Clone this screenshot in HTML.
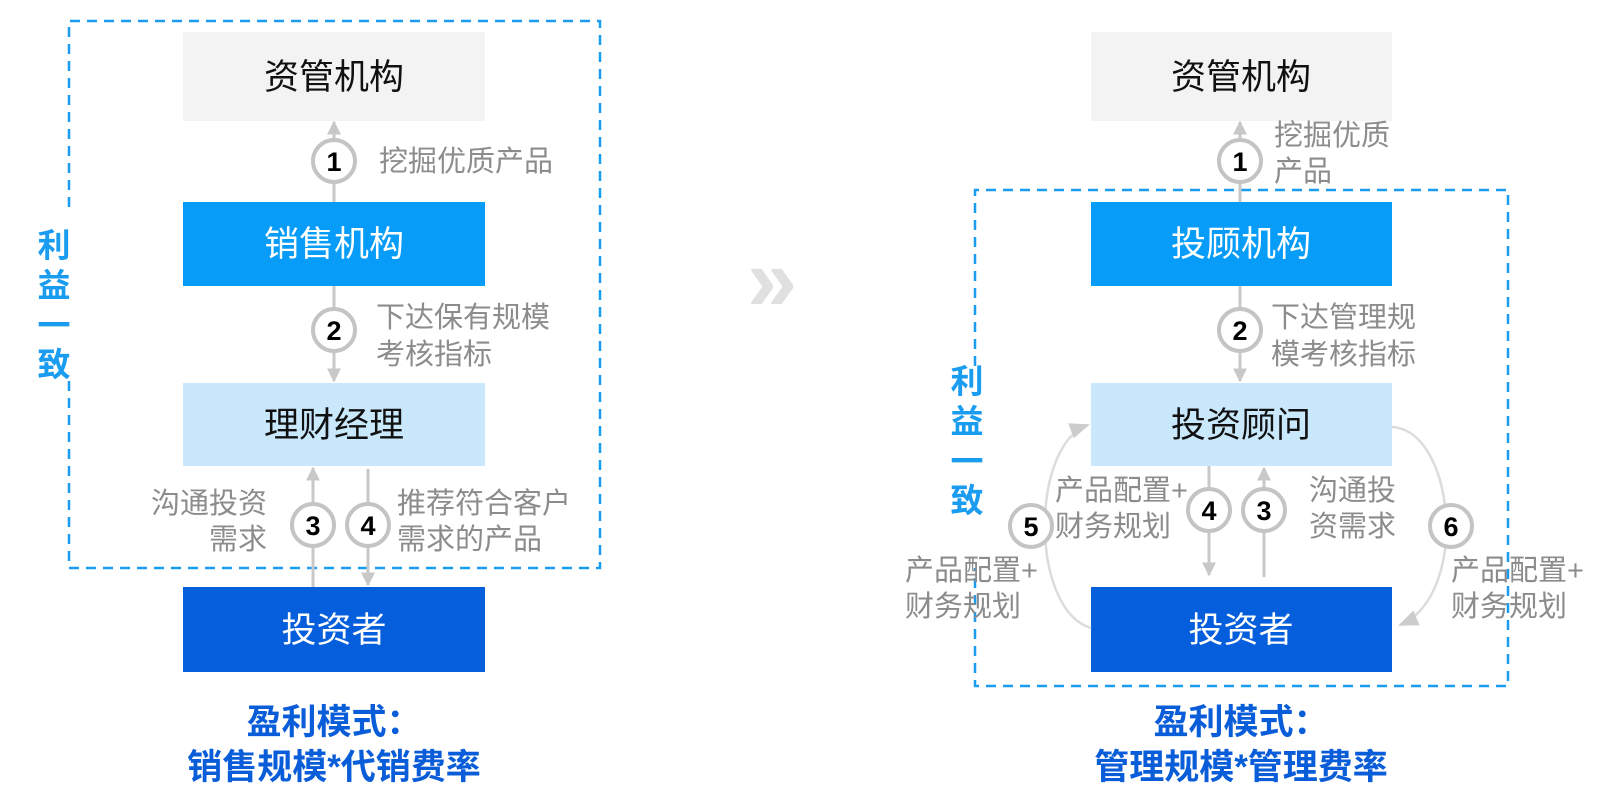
<!DOCTYPE html>
<html><head><meta charset="utf-8"><style>
body{margin:0;background:#fff;width:1623px;height:795px;overflow:hidden}
text{font-family:"Liberation Sans","Noto Sans CJK SC",sans-serif}
</style></head><body>
<svg width="1623" height="795" viewBox="0 0 1623 795" xmlns="http://www.w3.org/2000/svg">
<defs>
<marker id="ah" viewBox="0 0 10 10" refX="9" refY="5" markerWidth="14" markerHeight="14" orient="auto" markerUnits="userSpaceOnUse"><path d="M0,0L10,5L0,10z" fill="#c8c8c8"/></marker>
<marker id="ab" viewBox="0 0 10 10" refX="9" refY="5" markerWidth="20" markerHeight="20" orient="auto" markerUnits="userSpaceOnUse"><path d="M0,1L10,5L0,9z" fill="#cccccc"/></marker>
</defs>
<g fill="none" stroke="#1a9cf0" stroke-width="2.5" stroke-dasharray="10,7">
<path d="M69,207 V21 H600 V568 H69 V381"/>
<path d="M975,366 V190 H1508 V686 H975 V568"/>
</g>
<g font-weight="bold" font-size="33" fill="#1a9cf0" text-anchor="middle">
<text x="54" y="257">利</text><text x="54" y="297">益</text><text x="54" y="337">一</text><text x="54" y="376">致</text>
<text x="967" y="393">利</text><text x="967" y="433">益</text><text x="967" y="473">一</text><text x="967" y="512">致</text>
</g>
<rect x="183" y="32" width="302" height="89" fill="#f3f3f3"/>
<rect x="183" y="202" width="302" height="84" fill="#069cf8"/>
<rect x="183" y="383" width="302" height="83" fill="#c9e8fc"/>
<rect x="183" y="587" width="302" height="85" fill="#055fdc"/>
<g font-size="35" text-anchor="middle">
<text x="334" y="89" fill="#111">资管机构</text>
<text x="334" y="256" fill="#fff">销售机构</text>
<text x="334" y="437" fill="#111">理财经理</text>
<text x="334" y="642" fill="#fff">投资者</text>
</g>
<rect x="1091" y="32" width="301" height="89" fill="#f3f3f3"/>
<rect x="1091" y="202" width="301" height="84" fill="#069cf8"/>
<rect x="1091" y="383" width="301" height="83" fill="#c9e8fc"/>
<rect x="1091" y="587" width="301" height="85" fill="#055fdc"/>
<g font-size="35" text-anchor="middle">
<text x="1241" y="89" fill="#111">资管机构</text>
<text x="1241" y="256" fill="#fff">投顾机构</text>
<text x="1241" y="437" fill="#111">投资顾问</text>
<text x="1241" y="642" fill="#fff">投资者</text>
</g>
<text x="772" y="310" font-size="90" font-weight="bold" fill="#e0e0e0" text-anchor="middle">»</text>
<g stroke="#c8c8c8" stroke-width="3" fill="none">
<line x1="334" y1="202" x2="334" y2="122" marker-end="url(#ah)"/>
<line x1="334" y1="286" x2="334" y2="381" marker-end="url(#ah)"/>
<line x1="313" y1="587" x2="313" y2="468" marker-end="url(#ah)"/>
<line x1="368" y1="469" x2="368" y2="585" marker-end="url(#ah)"/>
<line x1="1240" y1="202" x2="1240" y2="122" marker-end="url(#ah)"/>
<line x1="1240" y1="286" x2="1240" y2="381" marker-end="url(#ah)"/>
<line x1="1209" y1="466" x2="1209" y2="575" marker-end="url(#ah)"/>
<line x1="1264" y1="577" x2="1264" y2="468" marker-end="url(#ah)"/>
</g>
<g stroke="#dcdcdc" stroke-width="2.5" fill="none">
<path d="M1091,628 C1030,610 1030,445 1088,425" marker-end="url(#ab)"/>
<path d="M1392,427 C1455,430 1470,595 1400,625" marker-end="url(#ab)"/>
</g>
<g fill="#fff" stroke="#c4c4c4" stroke-width="4">
<circle cx="334" cy="161" r="21"/><circle cx="334" cy="330" r="21"/>
<circle cx="313" cy="525" r="21"/><circle cx="368" cy="525" r="21"/>
<circle cx="1240" cy="161" r="21"/><circle cx="1240" cy="330" r="21"/>
<circle cx="1209" cy="510" r="21"/><circle cx="1264" cy="510" r="21"/>
<circle cx="1031" cy="526" r="21"/><circle cx="1451" cy="526" r="21"/>
</g>
<g font-size="27" font-weight="bold" text-anchor="middle" fill="#000">
<text x="334" y="171">1</text><text x="334" y="340">2</text>
<text x="313" y="535">3</text><text x="368" y="535">4</text>
<text x="1240" y="171">1</text><text x="1240" y="340">2</text>
<text x="1209" y="520">4</text><text x="1264" y="520">3</text>
<text x="1031" y="536">5</text><text x="1451" y="536">6</text>
</g>
<g font-size="29" fill="#8c8c8c">
<text x="379" y="171">挖掘优质产品</text>
<text x="376" y="327">下达保有规模</text><text x="376" y="364">考核指标</text>
<text x="151" y="513">沟通投资</text><text x="209" y="549">需求</text>
<text x="397" y="513">推荐符合客户</text><text x="397" y="549">需求的产品</text>
<text x="1274" y="145">挖掘优质</text><text x="1274" y="181">产品</text>
<text x="1271" y="327">下达管理规</text><text x="1271" y="364">模考核指标</text>
<text x="1055" y="500">产品配置+</text><text x="1055" y="536">财务规划</text>
<text x="1309" y="500">沟通投</text><text x="1309" y="536">资需求</text>
<text x="905" y="580">产品配置+</text><text x="905" y="616">财务规划</text>
<text x="1451" y="580">产品配置+</text><text x="1451" y="616">财务规划</text>
</g>
<g font-size="35" font-weight="bold" fill="#0a5dd8" text-anchor="middle">
<text x="334" y="734">盈利模式：</text><text x="334" y="779">销售规模*代销费率</text>
<text x="1241" y="734">盈利模式：</text><text x="1241" y="779">管理规模*管理费率</text>
</g>
</svg>
</body></html>
